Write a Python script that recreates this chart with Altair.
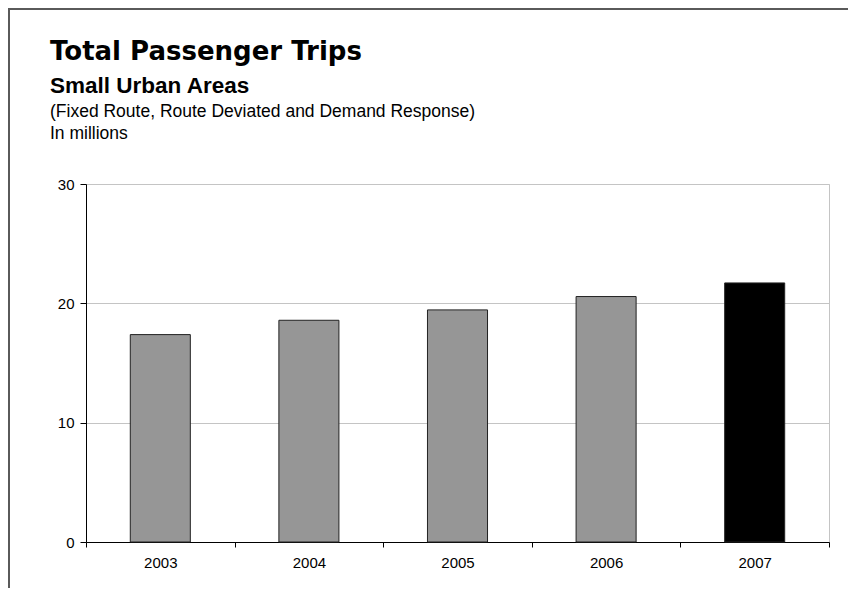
import altair as alt
import pandas as pd

# ---- data ----
years = ["2003", "2004", "2005", "2006", "2007"]
trips = [17.38, 18.58, 19.45, 20.57, 21.71]
highlight_year = "2007"
y_ticks = [0, 10, 20, 30]

title_text = "Total Passenger Trips"
subtitle_text = "Small Urban Areas"
note_lines = ["(Fixed Route, Route Deviated and Demand Response)", "In millions"]

df = pd.DataFrame({"year": years, "trips": trips})

W, H = 743, 358
PAD = {"left": 78, "top": 176, "right": 19, "bottom": 46}

# outer picture frame (top + left edges)
frame = alt.Chart(alt.Data(values=[{"k": 1}])).mark_rect(
    fillOpacity=0, stroke="#5a5a5a", strokeWidth=2
).encode(
    x=alt.value(-77), x2=alt.value(1500), y=alt.value(-175), y2=alt.value(1500)
)

bars = alt.Chart(df).mark_bar(
    width=alt.RelativeBandSize(0.404), stroke="#222222", strokeWidth=1
).encode(
    x=alt.X(
        "year:N", sort=years,
        scale=alt.Scale(paddingInner=0, paddingOuter=0),
        axis=alt.Axis(
            title=None, labelAngle=0, tickBand="extent", tickSize=5,
            labelPadding=8, labelFontSize=15, labelFont="Liberation Sans",
            labelColor="#000000", domainColor="#000000", tickColor="#000000",
            domainWidth=1, tickWidth=1, grid=False,
        ),
    ),
    y=alt.Y(
        "trips:Q",
        scale=alt.Scale(domain=[0, 30], nice=False),
        axis=alt.Axis(
            title=None, values=y_ticks, tickSize=6, labelPadding=6,
            labelFontSize=15, labelFont="Liberation Sans", labelColor="#000000",
            domainColor="#000000", tickColor="#000000", domainWidth=1, tickWidth=1,
            grid=True, gridColor="#c4c4c4", gridWidth=1,
        ),
    ),
    color=alt.condition(
        alt.datum.year == highlight_year, alt.value("#000000"), alt.value("#969696")
    ),
)


def text_line(txt, y, size, weight, font):
    return alt.Chart(alt.Data(values=[{"t": txt}])).mark_text(
        align="left", baseline="alphabetic", font=font, fontSize=size,
        fontWeight=weight, color="#000000"
    ).encode(x=alt.value(-36), y=alt.value(y), text="t:N")


t_title = text_line(title_text, -124, 26, "bold", "DejaVu Sans")
t_sub = text_line(subtitle_text, -91.3, 22.5, "bold", "Liberation Sans")
t_n1 = text_line(note_lines[0], -67.3, 17.5, "normal", "Liberation Sans")
t_n2 = text_line(note_lines[1], -44.7, 17.5, "normal", "Liberation Sans")

chart = alt.layer(frame, bars, t_title, t_sub, t_n1, t_n2).properties(
    width=W, height=H,
    autosize=alt.AutoSizeParams(type="none"),
    padding=PAD,
).configure_view(stroke="#c4c4c4", strokeWidth=1)

chart.save("out.html", embed_options={"renderer": "svg", "actions": False})
